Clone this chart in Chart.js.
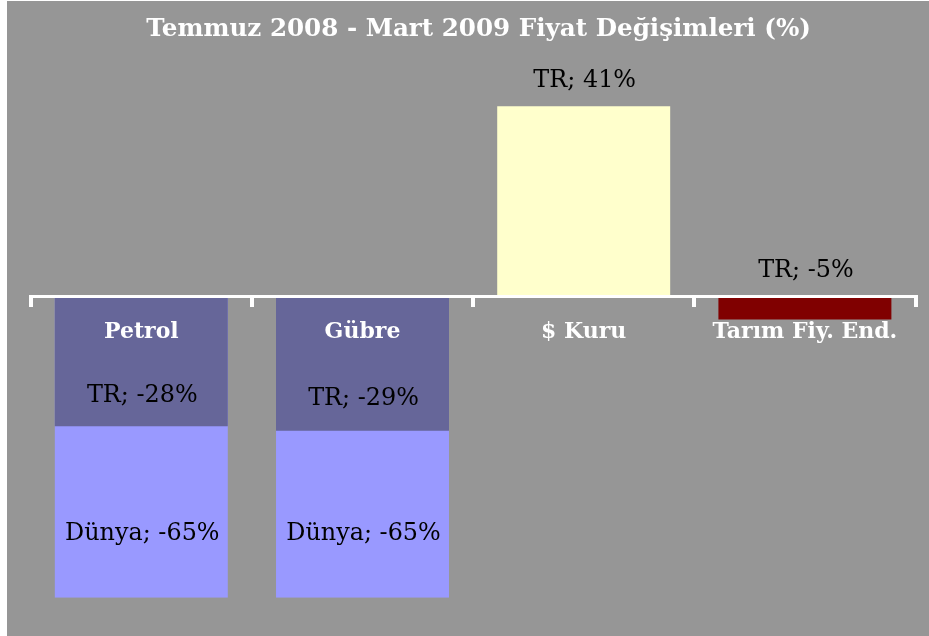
<!DOCTYPE html>
<html>
<head>
<meta charset="utf-8">
<script src="https://cdn.jsdelivr.net/npm/chart.js@4"></script>
<style>
    body{ margin:0; background:#ffffff; }
    #wrap{ position:absolute; left:7px; top:1px; width:922px; height:635px; background:#969696; }
    #chart{ position:absolute; left:21px; top:0; }
</style>
</head>
<body>
<div id="wrap"><canvas id="chart" width="901" height="635"></canvas></div>
<script>
/* =========================
   DATA
========================= */

const categories = ["Petrol", "Gübre", "$ Kuru", "Tarım Fiy. End."];
const trValues = [-28, -29, 41, -5];
const dunyaValues = [-65, -65, null, null];

const trColors = ["#666699", "#666699", "#FFFFCC", "#800000"];
const dunyaColor = "#9999FF";

const FONT = "'DejaVu Serif', serif";

/* =========================
   DATA LABELS ("TR; -28%")
========================= */

const barLabels = {
    id: "barLabels",
    afterDatasetsDraw(chart){
        const ctx = chart.ctx;
        const sets = chart.data.datasets;
        ctx.save();
        ctx.font = "23.9px " + FONT;
        ctx.fillStyle = "#000000";
        ctx.textAlign = "center";
        ctx.textBaseline = "alphabetic";
        sets.forEach((ds, di)=>{
            const meta = chart.getDatasetMeta(di);
            meta.data.forEach((bar, i)=>{
                const v = ds.data[i];
                if(v === null || v === undefined) return;
                const text = ds.label + "; " + v + "%";
                // inside when the other series also has a bar here, otherwise above
                const other = sets[1 - di].data[i];
                let y;
                if(other !== null && other !== undefined){
                    y = bar.base + (bar.y - bar.base) * 0.81;
                }else{
                    y = Math.min(bar.y, bar.base) - 19;
                }
                ctx.fillText(text, bar.x + 1, y);
            });
        });
        ctx.restore();
    }
};

/* =========================
   CHART
========================= */

new Chart(document.getElementById("chart"), {
    type: "bar",
    data: {
        labels: categories,
        datasets: [
            {
                label: "TR",
                data: trValues,
                backgroundColor: trColors,
                grouped: false,
                barPercentage: 0.782,
                categoryPercentage: 1
            },
            {
                label: "Dünya",
                data: dunyaValues,
                backgroundColor: dunyaColor,
                grouped: false,
                barPercentage: 0.782,
                categoryPercentage: 1
            }
        ]
    },
    options: {
        responsive: false,
        animation: false,
        layout: { padding: { left: 2.7, right: 2.5, top: 0, bottom: 38.3 } },
        plugins: {
            legend: { display: false },
            tooltip: { enabled: false },
            title: {
                display: true,
                text: "Temmuz 2008 - Mart 2009 Fiyat Değişimleri (%)",
                color: "#ffffff",
                font: { family: FONT, size: 24.6, weight: "bold", lineHeight: 1.2 },
                padding: { top: 14, bottom: 20.1 }
            }
        },
        scales: {
            x: {
                position: { y: 0 },
                offset: true,
                grid: {
                    display: true,
                    offset: true,
                    drawOnChartArea: false,
                    drawTicks: true,
                    tickLength: 9,
                    color: "#ffffff",
                    lineWidth: 4,
                    z: 1
                },
                border: { display: true, color: "#ffffff", width: 3, z: 1 },
                ticks: {
                    color: "#ffffff",
                    font: { family: FONT, size: 22, weight: "bold" },
                    padding: 13.4,
                    maxRotation: 0,
                    autoSkip: false,
                    z: 1
                }
            },
            y: {
                // invisible axis, only keeps a small gap on the right
                display: true,
                position: "right",
                min: -65,
                max: 50,
                grid: { display: false },
                border: { display: false },
                ticks: { display: false },
                afterFit(scale){ scale.width = 11; }
            }
        }
    },
    plugins: [barLabels]
});
</script>
</body>
</html>
